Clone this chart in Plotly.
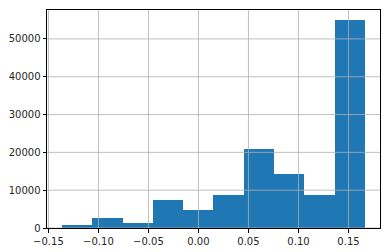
import plotly.graph_objects as go

bin_edges = [-0.1363, -0.1060, -0.0758, -0.0455, -0.0152, 0.0150,
             0.0453, 0.0756, 0.1058, 0.1361, 0.1664]
counts = [800, 2700, 1400, 7450, 4800, 8750, 20950, 14300, 8750, 54900]
x_ticks = [-0.15, -0.10, -0.05, 0.00, 0.05, 0.10, 0.15]
y_ticks = [0, 10000, 20000, 30000, 40000, 50000]

centers = [(a + b) / 2 for a, b in zip(bin_edges[:-1], bin_edges[1:])]
widths = [b - a for a, b in zip(bin_edges[:-1], bin_edges[1:])]

fig = go.Figure(go.Bar(x=centers, y=counts, width=widths,
                       marker=dict(color="#1f77b4", line=dict(width=0))))

span = bin_edges[-1] - bin_edges[0]
xr = [bin_edges[0] - 0.05 * span, bin_edges[-1] + 0.05 * span]
yr = [0, max(counts) * 1.05]

shapes = []
for t in x_ticks:
    shapes.append(dict(type="line", xref="x", yref="paper", x0=t, x1=t, y0=0, y1=1,
                       line=dict(color="#b0b0b0", width=0.8), layer="above"))
for t in y_ticks:
    shapes.append(dict(type="line", xref="paper", yref="y", x0=0, x1=1, y0=t, y1=t,
                       line=dict(color="#b0b0b0", width=0.8), layer="above"))

axis_common = dict(showgrid=False, zeroline=False, showline=True, mirror=True,
                   linecolor="#000000", linewidth=1, ticks="outside", ticklen=3.5,
                   tickwidth=0.8, tickcolor="#000000", automargin=False,
                   tickfont=dict(family="DejaVu Sans", size=10, color="#262626"))

fig.update_layout(
    width=391, height=252,
    margin=dict(l=47, r=11, t=10, b=24),
    paper_bgcolor="white", plot_bgcolor="white",
    showlegend=False, bargap=0,
    shapes=shapes,
    xaxis=dict(range=xr, tickvals=x_ticks, tickformat=".2f", **axis_common),
    yaxis=dict(range=yr, tickvals=y_ticks, tickformat="d", **axis_common),
)

fig.write_html("out.html")
